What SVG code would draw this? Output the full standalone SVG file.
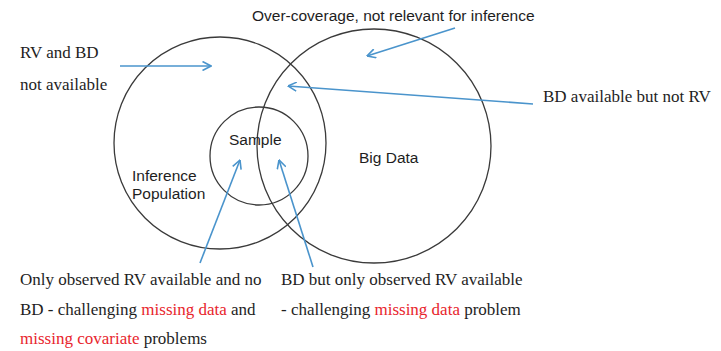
<svg xmlns="http://www.w3.org/2000/svg" width="721" height="351" viewBox="0 0 721 351">
<style>
.c{fill:none;stroke:#3a3a3a;stroke-width:1.3}
.a{fill:none;stroke:#4a94cc;stroke-width:1.6}
.s{font-family:"Liberation Sans",Arial,sans-serif;font-size:15.5px;fill:#1e1e1e}
.t{font-family:"Liberation Serif","Times New Roman",serif;font-size:17px;fill:#1e1e1e}
.r{fill:#e8252d}
</style>
<defs>
<marker id="ah" viewBox="0 0 10 10" refX="9.5" refY="5" markerWidth="10" markerHeight="10" markerUnits="userSpaceOnUse" orient="auto">
<path d="M1,0.5 L9.5,5 L1,9.5" fill="none" stroke="#4a94cc" stroke-width="1.6"/>
</marker>
</defs>
<rect width="721" height="351" fill="#ffffff"/>
<g id="inference-population">
<circle class="c" cx="220" cy="143" r="106"/>
<text class="s" x="132" y="181">Inference</text>
<text class="s" x="132" y="199">Population</text>
</g>
<g id="big-data">
<circle class="c" cx="374" cy="146" r="117"/>
<text class="s" x="359" y="163">Big Data</text>
</g>
<g id="sample">
<circle class="c" cx="259" cy="156" r="49"/>
<text class="s" x="229" y="145">Sample</text>
</g>
<g id="label-overcoverage">
<text class="s" x="252" y="21">Over-coverage, not relevant for inference</text>
</g>
<g id="label-rv-bd">
<text class="t" x="20" y="58">RV and BD</text>
<text class="t" x="20" y="90">not available</text>
</g>
<g id="label-bd-not-rv">
<text class="t" x="543" y="102">BD available but not RV</text>
</g>
<g id="label-only-rv">
<text class="t" x="20" y="285">Only observed RV available and no</text>
<text class="t" x="20" y="315">BD - challenging <tspan class="r">missing data</tspan> and</text>
<text class="t" x="20" y="344"><tspan class="r">missing covariate</tspan> problems</text>
</g>
<g id="label-bd-only-rv">
<text class="t" x="281" y="285">BD but only observed RV available</text>
<text class="t" x="281" y="315">- challenging <tspan class="r">missing data</tspan> problem</text>
</g>
<g id="connectors">
<line class="a" x1="120" y1="66" x2="211" y2="66" marker-end="url(#ah)"/>
<line class="a" x1="533" y1="104" x2="288" y2="86" marker-end="url(#ah)"/>
<line class="a" x1="455" y1="28" x2="367" y2="56" marker-end="url(#ah)"/>
<line class="a" x1="200" y1="263" x2="240" y2="160" marker-end="url(#ah)"/>
<line class="a" x1="313" y1="267" x2="279" y2="160" marker-end="url(#ah)"/>
</g>
</svg>
